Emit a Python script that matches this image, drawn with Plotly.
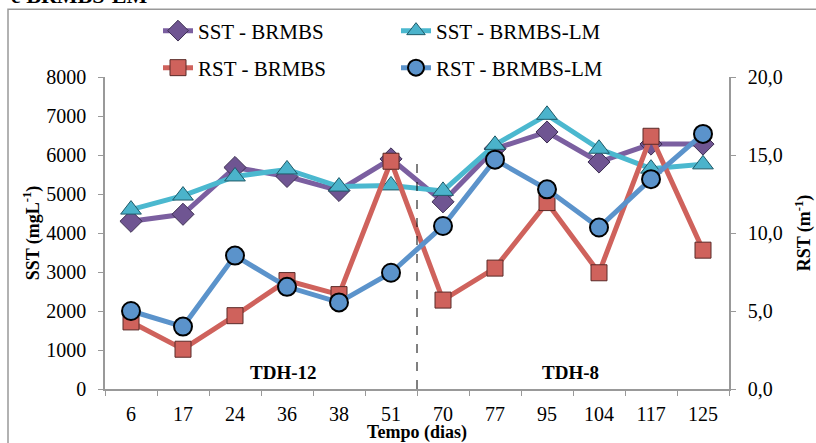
import plotly.graph_objects as go

# ---- data ----
dias = ["6", "17", "24", "36", "38", "51", "70", "77", "95", "104", "117", "125"]
sst_brmbs = [4300, 4480, 5680, 5450, 5090, 5900, 4800, 6160, 6590, 5820, 6280, 6280]
sst_brmbs_lm = [4600, 4960, 5450, 5630, 5190, 5220, 5080, 6260, 7030, 6160, 5650, 5760]
rst_brmbs = [4.3, 2.55, 4.7, 6.95, 6.05, 14.6, 5.7, 7.75, 11.95, 7.45, 16.2, 8.9]
rst_brmbs_lm = [5.0, 4.0, 8.55, 6.55, 5.55, 7.45, 10.45, 14.7, 12.8, 10.35, 13.45, 16.35]
fase_labels = ["TDH-12", "TDH-8"]

FONT = "Liberation Serif, Tinos, Times New Roman, serif"
c_purple = "#7B5FA0"
c_cyan = "#4BB8CF"
c_red = "#CF625C"
c_blue = "#5B93CB"

fig = go.Figure()

fig.add_trace(go.Scatter(
    x=dias, y=sst_brmbs, name="SST - BRMBS", mode="lines+markers",
    line=dict(color=c_purple, width=5),
    marker=dict(symbol="diamond", size=17, color="#6F5592", line=dict(color="#3d2f52", width=1)),
    legend="legend"))
fig.add_trace(go.Scatter(
    x=dias, y=sst_brmbs_lm, name="SST - BRMBS-LM", mode="lines+markers",
    line=dict(color=c_cyan, width=5),
    marker=dict(symbol="triangle-up", size=18, color="#4BB3CB", line=dict(color="#1f5a68", width=1)),
    legend="legend"))
fig.add_trace(go.Scatter(
    x=dias, y=rst_brmbs, name="RST - BRMBS", mode="lines+markers", yaxis="y2",
    line=dict(color=c_red, width=5),
    marker=dict(symbol="square", size=16, color=c_red, line=dict(color="#5a2a28", width=1)),
    legend="legend2"))
fig.add_trace(go.Scatter(
    x=dias, y=rst_brmbs_lm, name="RST - BRMBS-LM", mode="lines+markers", yaxis="y2",
    line=dict(color=c_blue, width=5),
    marker=dict(symbol="circle", size=18, color=c_blue, line=dict(color="black", width=2)),
    legend="legend2"))

W, H = 816, 443
L, R, T, B = 105, 87, 76, 54
pw, ph = W - L - R, H - T - B

def px(xp):
    return (xp - L) / pw

def py(yp):
    return (H - B - yp) / ph

shapes = [
    dict(type="line", xref="x", yref="paper", x0=5.5, x1=5.5, y0=0, y1=py(160),
         line=dict(color="black", width=1, dash="dash")),
    dict(type="rect", xref="paper", yref="paper", x0=px(8), x1=px(830), y0=py(460), y1=py(8),
         line=dict(color="#999999", width=1.5), fillcolor="rgba(0,0,0,0)", layer="below"),
]

annotations = [
    dict(text="<b>" + fase_labels[0] + "</b>", x=px(283), y=py(372), xref="paper", yref="paper",
         xanchor="center", yanchor="middle",
         showarrow=False, font=dict(family=FONT, size=19, color="black")),
    dict(text="<b>" + fase_labels[1] + "</b>", x=px(570), y=py(372), xref="paper", yref="paper",
         xanchor="center", yanchor="middle",
         showarrow=False, font=dict(family=FONT, size=19, color="black")),
    dict(text="<b>e BRMBS-LM</b>", x=px(9), y=py(-6), xref="paper", yref="paper",
         xanchor="left", yanchor="middle", showarrow=False,
         font=dict(family=FONT, size=22, color="black")),
]

fig.update_layout(
    width=W, height=H,
    margin=dict(l=L, r=R, t=T, b=B),
    paper_bgcolor="white", plot_bgcolor="white",
    separators=",.",
    font=dict(family=FONT, size=18, color="black"),
    shapes=shapes, annotations=annotations,
    xaxis=dict(type="category", range=[-0.5, 11.5], showline=True, linecolor="#999999", linewidth=1.5,
               ticks="outside", tickson="boundaries", ticklen=5, tickcolor="#999999",
               showgrid=False, tickfont=dict(family=FONT, size=20), ticklabelstandoff=6,
               automargin=False,
               title=dict(text="<b>Tempo (dias)</b>", font=dict(family=FONT, size=18), standoff=0)),
    yaxis=dict(range=[0, 8000], dtick=1000, showline=True, linecolor="#999999", linewidth=1.5,
               ticks="outside", ticklen=5, tickcolor="#999999", showgrid=False, zeroline=False,
               tickfont=dict(family=FONT, size=20), ticklabelstandoff=8, automargin=False,
               title=dict(text="<b>SST (mgL<sup>-1</sup>)</b>", font=dict(family=FONT, size=18), standoff=2)),
    yaxis2=dict(range=[0, 20], dtick=5, tickformat=".1f", overlaying="y", side="right",
                showline=True, linecolor="#999999", linewidth=1.5, ticks="outside", ticklen=5,
                tickcolor="#999999", showgrid=False, zeroline=False, automargin=False,
                tickfont=dict(family=FONT, size=20), ticklabelstandoff=8,
                title=dict(text="<b>RST (m<sup>-1</sup>)</b>", font=dict(family=FONT, size=18), standoff=16)),
    legend=dict(orientation="h", x=px(158), y=py(31), xanchor="left", yanchor="middle",
                entrywidth=193, entrywidthmode="pixels", font=dict(family=FONT, size=21),
                bgcolor="rgba(0,0,0,0)"),
    legend2=dict(orientation="h", x=px(158), y=py(68), xanchor="left", yanchor="middle",
                 entrywidth=193, entrywidthmode="pixels", font=dict(family=FONT, size=21),
                 bgcolor="rgba(0,0,0,0)"),
    showlegend=True,
)

fig.write_html("out.html")
